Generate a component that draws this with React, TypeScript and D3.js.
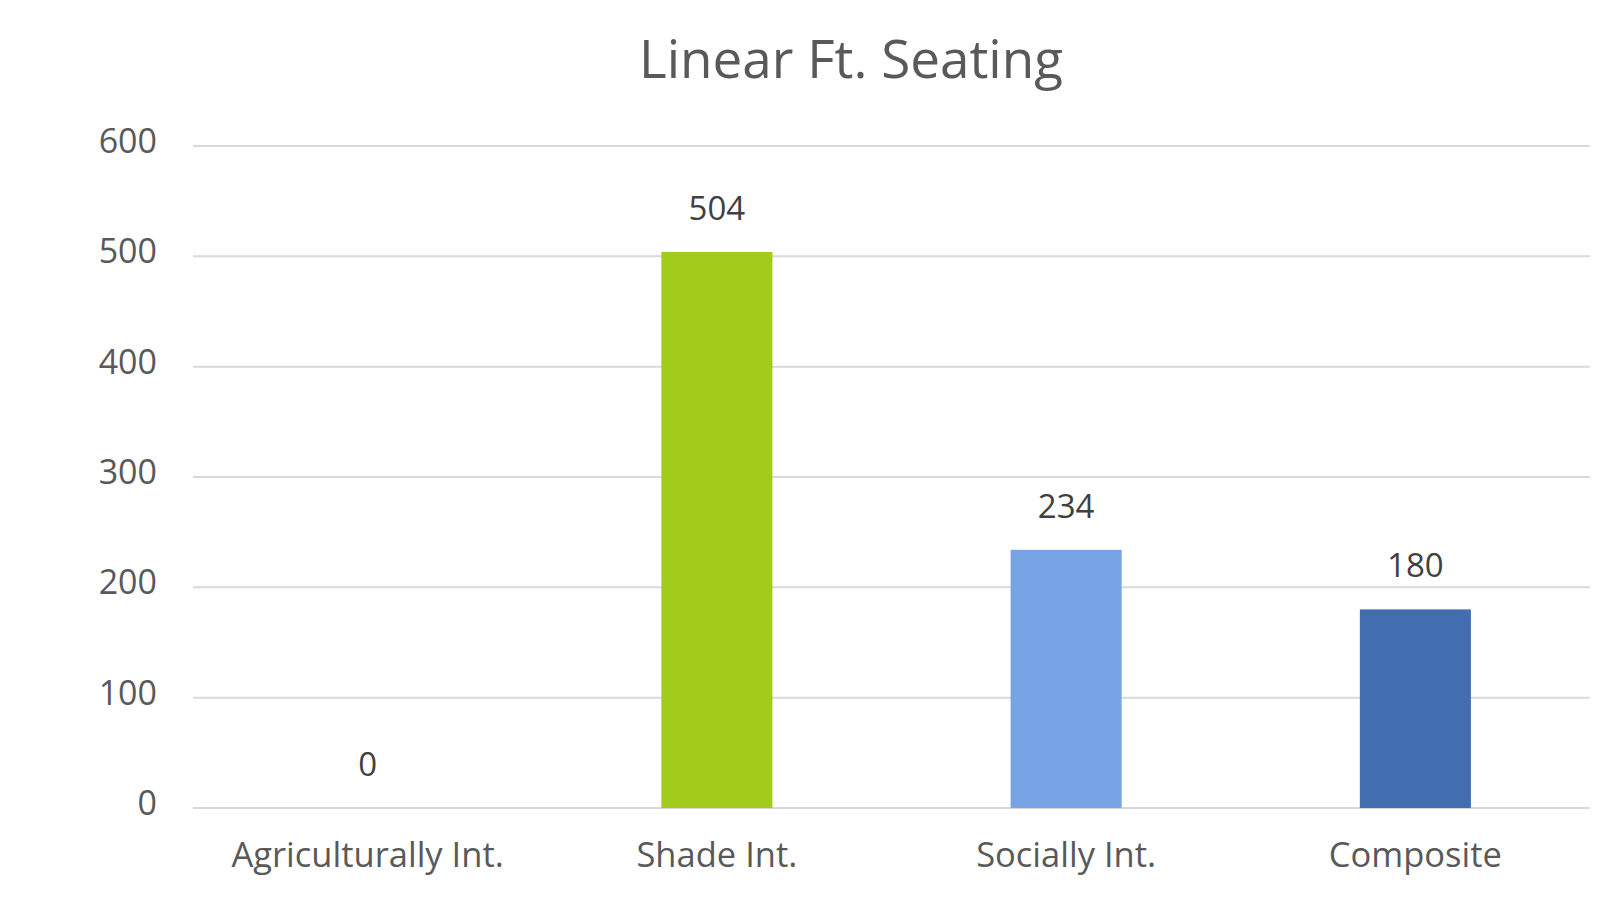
import React from 'react'
import * as d3 from 'd3'

// Chart data
const categories = ['Agriculturally Int.', 'Shade Int.', 'Socially Int.', 'Composite']
const values = [0, 504, 234, 180]
const barColors = ['#A5A5A5', '#A2CB1C', '#78A4E5', '#426DAE']
const yTicks = [0, 100, 200, 300, 400, 500, 600]
const title = 'Linear Ft. Seating'

const W = 1623
const H = 921
const FONT = '"Open Sans", sans-serif'

const App: React.FC = () => {
  const x = d3
    .scaleBand()
    .domain(categories)
    .range([193, 1590])
    .paddingInner(0.682)
    .paddingOuter(0.341)

  const y = d3.scaleLinear().domain([0, 600]).range([808, 146])

  return (
    <svg
      width={W}
      height={H}
      style={{ position: 'absolute', left: 0, top: 0, background: '#fff' }}
    >
      <text x={851} y={78} textAnchor="middle" fontFamily={FONT} fontSize={53} fill="#595959">
        {title}
      </text>

      {/* gridlines + y tick labels */}
      {yTicks.map((t) => (
        <g key={t}>
          <line x1={193} x2={1590} y1={y(t)} y2={y(t)} stroke="#D9D9D9" strokeWidth={2} />
          <text x={157} y={y(t) + 7} textAnchor="end" fontFamily={FONT} fontSize={34} fill="#595959">
            {t}
          </text>
        </g>
      ))}

      {/* bars */}
      {categories.map((c, i) => (
        <rect
          key={c}
          x={x(c)!}
          y={y(values[i])}
          width={x.bandwidth()}
          height={y(0) - y(values[i])}
          fill={barColors[i]}
        />
      ))}

      {/* value labels */}
      {categories.map((c, i) => (
        <text
          key={c}
          x={x(c)! + x.bandwidth() / 2}
          y={y(values[i]) - 32}
          textAnchor="middle"
          fontFamily={FONT}
          fontSize={33}
          fill="#404040"
        >
          {values[i]}
        </text>
      ))}

      {/* category labels */}
      {categories.map((c) => (
        <text
          key={c}
          x={x(c)! + x.bandwidth() / 2}
          y={867}
          textAnchor="middle"
          fontFamily={FONT}
          fontSize={34.5}
          fill="#595959"
        >
          {c}
        </text>
      ))}
    </svg>
  )
}

export default App
